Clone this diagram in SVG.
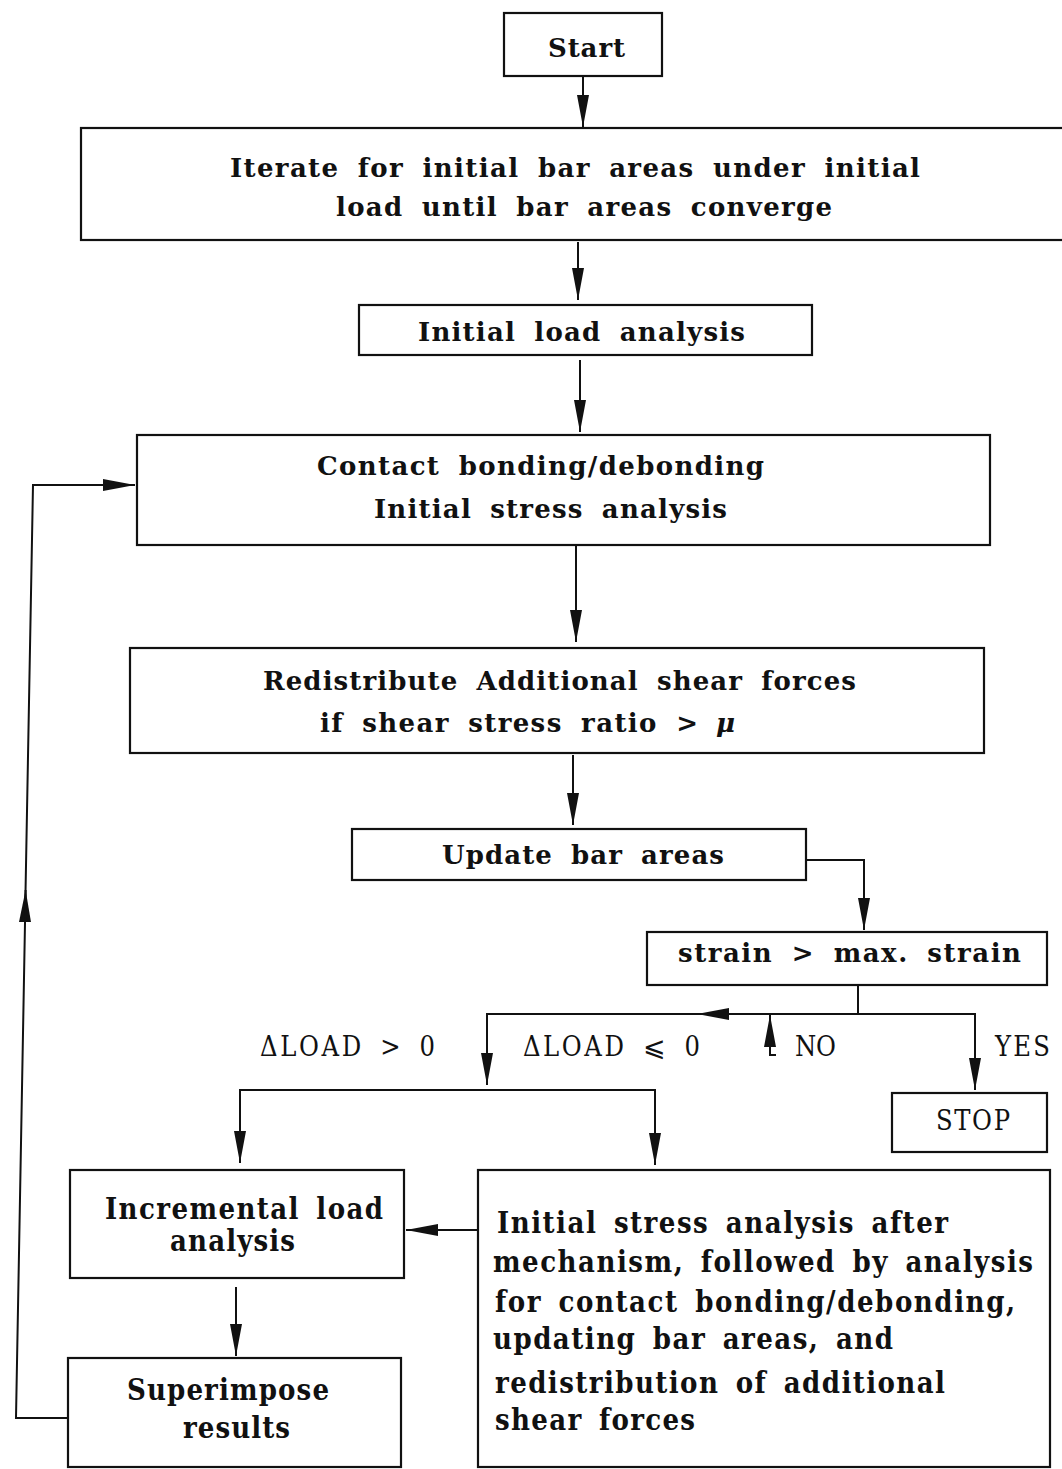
<svg xmlns="http://www.w3.org/2000/svg" width="1062" height="1469" viewBox="0 0 1062 1469">
<defs>
<style>
.box{fill:#fff;stroke:#111;stroke-width:2.2}
.ln{fill:none;stroke:#111;stroke-width:2}
.t{font-family:"DejaVu Serif","Liberation Serif",serif;font-size:26px;fill:#111;font-weight:bold;word-spacing:8px}
.n{font-family:"DejaVu Serif Condensed","DejaVu Serif","Liberation Serif",serif;font-stretch:condensed;font-size:27px;fill:#111;word-spacing:6px}
.c{font-family:"DejaVu Serif Condensed","DejaVu Serif","Liberation Serif",serif;font-stretch:condensed;font-size:29px;fill:#111;font-weight:bold;word-spacing:6px}
</style>
<marker id="ah" markerUnits="userSpaceOnUse" markerWidth="34" markerHeight="14" refX="32" refY="7" orient="auto">
<path d="M0,1 L32,7 L0,13 Z" fill="#111"/>
</marker>
</defs>
<rect width="1062" height="1469" fill="#fff"/>
<g id="connectors">
<line class="ln" x1="583" y1="77" x2="583" y2="127" marker-end="url(#ah)"/>
<line class="ln" x1="578" y1="242" x2="578" y2="300" marker-end="url(#ah)"/>
<line class="ln" x1="580" y1="360" x2="580" y2="432" marker-end="url(#ah)"/>
<line class="ln" x1="576" y1="545" x2="576" y2="642" marker-end="url(#ah)"/>
<line class="ln" x1="573" y1="755" x2="573" y2="825" marker-end="url(#ah)"/>
<polyline class="ln" points="806,860 864,860 864,930" marker-end="url(#ah)"/>
<polyline class="ln" points="858,985 858,1014 697,1014" marker-end="url(#ah)"/>
<polyline class="ln" points="730,1014 487,1014 487,1085" marker-end="url(#ah)"/>
<polyline class="ln" points="858,1014 975,1014 975,1090" marker-end="url(#ah)"/>
<polyline class="ln" points="776,1055 770,1055 770,1015" marker-end="url(#ah)"/>
<polyline class="ln" points="240,1163 240,1090 655,1090 655,1165" marker-end="url(#ah)"/>
<line class="ln" x1="240" y1="1110" x2="240" y2="1163" marker-end="url(#ah)"/>
<line class="ln" x1="478" y1="1230" x2="406" y2="1230" marker-end="url(#ah)"/>
<line class="ln" x1="236" y1="1287" x2="236" y2="1356" marker-end="url(#ah)"/>
<polyline class="ln" points="68,1418 16,1418 25.6,890" marker-end="url(#ah)"/>
<polyline class="ln" points="25,920 33,485 135,485" marker-end="url(#ah)"/>
</g>
<g id="start"><rect class="box" x="504" y="13" width="158" height="63"/><text class="t" x="548" y="57" textLength="77">Start</text></g>
<g id="iterate"><rect class="box" x="81" y="128" width="985" height="112"/>
<text class="t" x="230" y="177" textLength="690">Iterate for initial bar areas under initial</text>
<text class="t" x="336" y="216" textLength="496">load until bar areas converge</text></g>
<g id="initial-load"><rect class="box" x="359" y="305" width="453" height="50"/><text class="t" x="418" y="341" textLength="327">Initial load analysis</text></g>
<g id="contact"><rect class="box" x="137" y="435" width="853" height="110"/>
<text class="t" x="317" y="475" textLength="447">Contact bonding/debonding</text>
<text class="t" x="374" y="518" textLength="353">Initial stress analysis</text></g>
<g id="redistribute"><rect class="box" x="130" y="648" width="854" height="105"/>
<text class="t" x="263" y="690" textLength="593">Redistribute Additional shear forces</text>
<text class="t" x="320" y="732" textLength="378">if shear stress ratio &gt;</text>
<text class="t" x="716" y="732" font-style="italic">μ</text></g>
<g id="update"><rect class="box" x="352" y="829" width="454" height="51"/><text class="t" x="442" y="864" textLength="282">Update bar areas</text></g>
<g id="strain"><rect class="box" x="647" y="932" width="400" height="53"/><text class="t" x="678" y="962" textLength="343">strain &gt; max. strain</text></g>
<g id="labels">
<text class="n" x="260" y="1056" textLength="175">ΔLOAD &gt; 0</text>
<text class="n" x="523" y="1056" textLength="177">ΔLOAD ⩽ 0</text>
<text class="n" x="795" y="1056" textLength="41">NO</text>
<text class="n" x="995" y="1056" textLength="55">YES</text>
</g>
<g id="stop"><rect class="box" x="892" y="1093" width="155" height="59"/><text class="n" x="936" y="1130" textLength="74">STOP</text></g>
<g id="incremental"><rect class="box" x="70" y="1170" width="334" height="108"/>
<text class="c" x="105" y="1219" textLength="278">Incremental load</text>
<text class="c" x="170" y="1251" textLength="125">analysis</text></g>
<g id="superimpose"><rect class="box" x="68" y="1358" width="333" height="109"/>
<text class="c" x="127" y="1400" textLength="202">Superimpose</text>
<text class="c" x="183" y="1438" textLength="107">results</text></g>
<g id="after-mechanism"><rect class="box" x="478" y="1170" width="572" height="297"/>
<text class="c" x="497" y="1233" textLength="451">Initial stress analysis after</text>
<text class="c" x="493" y="1272" textLength="540">mechanism, followed by analysis</text>
<text class="c" x="495" y="1312" textLength="520">for contact bonding/debonding,</text>
<text class="c" x="493" y="1349" textLength="400">updating bar areas, and</text>
<text class="c" x="495" y="1393" textLength="450">redistribution of additional</text>
<text class="c" x="495" y="1430" textLength="200">shear forces</text></g>
</svg>
